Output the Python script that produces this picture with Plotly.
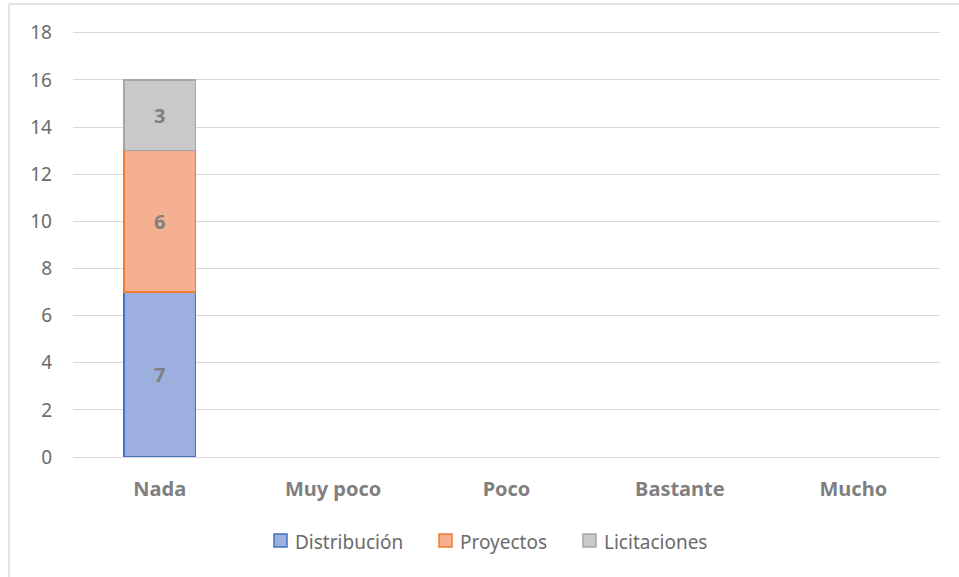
import plotly.graph_objects as go

categories = ["Nada", "Muy poco", "Poco", "Bastante", "Mucho"]
distribucion = [7, None, None, None, None]
proyectos = [6, None, None, None, None]
licitaciones = [3, None, None, None, None]
y_ticks = [0, 2, 4, 6, 8, 10, 12, 14, 16, 18]

FONT = "Noto Sans"
W, H = 959, 577
ML, MR, MT, MB = 73, 19, 28, 120
PW, PH = W - ML - MR, H - MT - MB


def px_x(px):
    return (px - ML) / PW


def px_y(py):
    return (H - MB - py) / PH


fig = go.Figure()
series = [
    ("Distribución", distribucion, "#9CAFDE", "#4472C4"),
    ("Proyectos", proyectos, "#F5B092", "#ED7D31"),
    ("Licitaciones", licitaciones, "#C9C9C9", "#A5A5A5"),
]
for name, vals, fill, line in series:
    fig.add_trace(go.Bar(
        x=categories, y=vals, name=name, width=0.41,
        marker=dict(color=fill, line=dict(color=line, width=1.5)),
        text=[str(v) if v is not None else "" for v in vals],
        textposition="inside", insidetextanchor="middle",
        textfont=dict(family=FONT, size=20, color="#7F7F7F", weight="bold"),
        hoverinfo="skip", showlegend=False,
    ))

shapes = [
    dict(type="line", xref="paper", yref="paper",
         x0=px_x(9), x1=px_x(9), y0=px_y(600), y1=px_y(4),
         line=dict(color="#D9D9D9", width=1.5)),
    dict(type="line", xref="paper", yref="paper",
         x0=px_x(9), x1=px_x(970), y0=px_y(4), y1=px_y(4),
         line=dict(color="#D9D9D9", width=1.5)),
]
annotations = []
legend_pos = [274, 439, 583]
for (name, vals, fill, line), lx in zip(series, legend_pos):
    shapes.append(dict(type="rect", xref="paper", yref="paper",
                       x0=px_x(lx), x1=px_x(lx + 13), y0=px_y(547), y1=px_y(534),
                       fillcolor=fill, line=dict(color=line, width=1.5)))
    annotations.append(dict(xref="paper", yref="paper", x=px_x(lx + 19), y=px_y(541.5),
                            xanchor="left", yanchor="middle", showarrow=False,
                            text=name, font=dict(family=FONT, size=19, color="#6B6B6B")))

fig.update_layout(
    barmode="stack",
    width=W, height=H,
    margin=dict(l=ML, r=MR, t=MT, b=MB),
    paper_bgcolor="white", plot_bgcolor="white",
    font=dict(family=FONT, color="#6B6B6B", size=18),
    showlegend=False,
    xaxis=dict(showgrid=False, showline=True, linecolor="#D9D9D9", linewidth=1,
               ticks="", tickfont=dict(family=FONT, size=20, color="#7F7F7F", weight="bold"),
               ticklabelstandoff=14),
    yaxis=dict(range=[0, 18.2], tickvals=y_ticks, showgrid=True, gridcolor="#D9D9D9",
               gridwidth=1, zeroline=False, showline=False, ticks="",
               tickfont=dict(family=FONT, size=19, color="#6B6B6B"),
               ticklabelstandoff=20),
    shapes=shapes,
    annotations=annotations,
)
fig.write_html("out.html")
